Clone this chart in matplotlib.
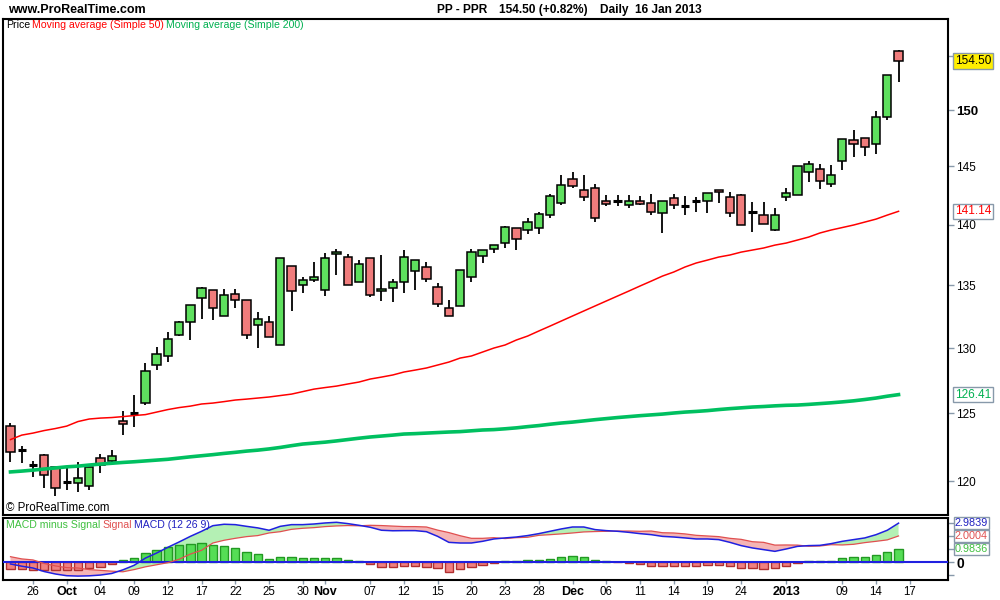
import matplotlib
matplotlib.use("Agg")
import matplotlib.pyplot as plt
import matplotlib.transforms as mtrans
from matplotlib import font_manager
import numpy as np

names = {f.name for f in font_manager.fontManager.ttflist}
FONT = 'Liberation Sans Narrow' if 'Liberation Sans Narrow' in names else 'Liberation Sans'
plt.rcParams['font.family'] = [FONT, 'DejaVu Sans']

# ---------------- data ----------------
opens = [124.04, 122.3, 121.2, 121.88, 121.0, 119.95, 119.85, 119.65, 121.66, 121.5,
         124.4, 125.0, 125.8, 128.7, 129.4, 131.0, 132.05, 134.0, 134.6, 132.5,
         134.3, 133.85, 131.8, 132.05, 130.2, 136.6, 135.0, 135.4, 134.6, 137.55,
         137.3, 135.3, 137.2, 134.5, 134.8, 135.25, 136.15, 136.5, 134.9, 133.15,
         133.3, 135.65, 137.4, 137.95, 138.45, 139.75, 139.55, 139.75, 140.8, 141.85,
         143.95, 142.95, 143.1, 142.0, 142.0, 141.65, 142.0, 141.85, 141.0, 142.25,
         141.6, 142.0, 142.0, 142.95, 142.35, 142.5, 141.05, 140.8, 139.55, 142.35,
         142.5, 144.5, 144.8, 143.5, 145.5, 147.32, 147.5, 146.97, 149.37, 155.4]
highs = [124.27, 122.6, 121.5, 121.95, 121.0, 121.0, 121.4, 121.0, 121.95, 122.3,
         125.2, 126.4, 128.85, 130.05, 131.25, 132.1, 133.4, 134.9, 134.6, 134.7,
         134.7, 133.85, 132.85, 132.5, 137.2, 136.6, 135.65, 136.9, 137.65, 138.0,
         137.55, 137.05, 137.2, 137.5, 135.5, 137.9, 137.1, 136.9, 135.15, 133.8,
         136.25, 137.95, 137.9, 138.3, 139.9, 139.75, 140.6, 141.1, 142.6, 144.25,
         144.5, 144.25, 143.45, 142.55, 142.55, 142.55, 142.45, 142.6, 142.0, 142.6,
         142.45, 142.35, 142.7, 142.95, 142.8, 142.6, 141.9, 141.9, 141.4, 143.1,
         145.0, 145.45, 145.25, 145.15, 147.4, 148.2, 147.5, 149.9, 153.2, 155.5]
lows = [121.39, 121.3, 120.3, 119.5, 118.95, 119.4, 119.2, 119.4, 120.57, 121.3,
        123.4, 124.0, 125.6, 128.3, 128.9, 130.95, 130.65, 132.3, 132.2, 132.5,
        133.2, 130.7, 130.0, 130.9, 130.2, 132.9, 134.4, 135.25, 134.1, 135.85,
        135.0, 135.3, 134.05, 133.7, 133.65, 134.35, 134.6, 135.25, 133.25, 132.5,
        133.3, 135.25, 136.8, 137.65, 138.1, 137.9, 139.2, 139.2, 140.55, 141.65,
        143.1, 142.05, 140.25, 141.55, 141.6, 141.45, 141.65, 140.8, 139.35, 141.3,
        140.8, 141.05, 141.0, 141.85, 140.65, 140.0, 139.4, 140.05, 139.5, 142.0,
        142.5, 143.65, 143.05, 143.2, 144.65, 145.85, 145.9, 146.1, 149.1, 152.55]
closes = [122.12, 122.3, 121.2, 120.42, 119.5, 119.95, 120.2, 121.0, 121.2, 121.8,
          124.2, 125.0, 128.2, 129.5, 130.7, 132.05, 133.4, 134.75, 133.15, 134.25,
          133.85, 131.0, 132.3, 130.9, 137.2, 134.5, 135.4, 135.65, 137.2, 137.7,
          135.0, 136.75, 134.2, 134.7, 135.25, 137.3, 137.1, 135.5, 133.5, 132.5,
          136.25, 137.7, 137.9, 138.3, 139.8, 138.8, 140.25, 140.9, 142.45, 143.4,
          143.3, 142.35, 140.55, 141.75, 142.0, 142.0, 141.75, 141.1, 142.0, 141.65,
          141.6, 142.0, 142.7, 142.8, 141.0, 140.0, 141.05, 140.05, 140.8, 142.7,
          145.0, 145.25, 143.7, 144.25, 147.4, 147.0, 146.7, 149.37, 153.19, 154.50]

ma50 = [123.04, 123.37, 123.52, 123.71, 123.86, 124.04, 124.38, 124.57, 124.64, 124.68,
        124.75, 124.83, 124.90, 125.09, 125.28, 125.43, 125.54, 125.70, 125.77, 125.88,
        126.00, 126.07, 126.15, 126.23, 126.34, 126.45, 126.64, 126.83, 126.95, 127.06,
        127.22, 127.37, 127.60, 127.75, 127.91, 128.14, 128.29, 128.45, 128.68, 128.91,
        129.22, 129.38, 129.69, 130.00, 130.24, 130.63, 130.94, 131.34, 131.73, 132.13,
        132.53, 132.93, 133.33, 133.73, 134.13, 134.53, 134.94, 135.34, 135.75, 136.08,
        136.49, 136.82, 137.06, 137.31, 137.48, 137.72, 137.89, 138.06, 138.30, 138.47,
        138.72, 138.97, 139.31, 139.56, 139.77, 139.98, 140.23, 140.48, 140.82, 141.14]
ma200 = [120.67, 120.73, 120.80, 120.88, 120.96, 121.04, 121.09, 121.17, 121.24, 121.30,
         121.36, 121.41, 121.47, 121.53, 121.59, 121.68, 121.77, 121.85, 121.93, 122.02,
         122.10, 122.19, 122.26, 122.35, 122.46, 122.59, 122.71, 122.78, 122.85, 122.94,
         123.04, 123.14, 123.23, 123.30, 123.37, 123.45, 123.48, 123.52, 123.56, 123.60,
         123.63, 123.69, 123.75, 123.78, 123.84, 123.91, 124.00, 124.08, 124.18, 124.27,
         124.34, 124.43, 124.52, 124.60, 124.68, 124.75, 124.82, 124.88, 124.94, 125.02,
         125.09, 125.14, 125.20, 125.28, 125.35, 125.41, 125.47, 125.51, 125.56, 125.60,
         125.62, 125.67, 125.73, 125.79, 125.86, 125.94, 126.04, 126.15, 126.29, 126.41]

macd = [-0.15, -0.32, -0.46, -0.73, -0.92, -1.05, -1.08, -1.06, -1.00, -0.88,
        -0.60, -0.25, 0.30, 0.69, 1.13, 1.54, 1.97, 2.36, 2.79, 2.90,
        2.87, 2.74, 2.62, 2.44, 2.74, 2.87, 2.87, 2.92, 3.00, 3.05,
        2.95, 2.82, 2.67, 2.44, 2.40, 2.41, 2.41, 2.33, 1.97, 1.51,
        1.46, 1.46, 1.59, 1.77, 1.85, 1.92, 2.03, 2.18, 2.36, 2.54,
        2.69, 2.69, 2.49, 2.41, 2.36, 2.28, 2.18, 2.10, 1.97, 1.92,
        1.85, 1.77, 1.77, 1.72, 1.51, 1.26, 1.08, 0.95, 0.82, 1.00,
        1.20, 1.26, 1.28, 1.41, 1.59, 1.72, 1.85, 2.10, 2.44, 2.9839]
signal = [0.41, 0.24, 0.16, -0.11, -0.30, -0.43, -0.46, -0.58, -0.64, -0.70,
          -0.75, -0.58, -0.37, -0.21, -0.05, 0.21, 0.61, 0.90, 1.46, 1.67,
          1.82, 1.95, 2.03, 2.23, 2.33, 2.51, 2.59, 2.64, 2.72, 2.77,
          2.80, 2.78, 2.82, 2.80, 2.76, 2.72, 2.72, 2.69, 2.45, 2.26,
          2.02, 1.82, 1.82, 1.87, 1.80, 1.87, 1.90, 2.05, 2.10, 2.16,
          2.23, 2.31, 2.34, 2.36, 2.38, 2.38, 2.36, 2.38, 2.25, 2.23,
          2.16, 2.05, 2.00, 1.95, 1.82, 1.74, 1.56, 1.51, 1.30, 1.31,
          1.30, 1.21, 1.23, 1.33, 1.31, 1.36, 1.49, 1.59, 1.70, 2.0004]
hist = [-0.56, -0.56, -0.62, -0.62, -0.62, -0.62, -0.62, -0.48, -0.36, -0.18,
        0.15, 0.33, 0.67, 0.90, 1.18, 1.33, 1.36, 1.46, 1.33, 1.23,
        1.05, 0.79, 0.59, 0.21, 0.41, 0.36, 0.28, 0.28, 0.28, 0.28,
        0.15, 0.08, -0.15, -0.36, -0.36, -0.31, -0.31, -0.36, -0.48, -0.75,
        -0.56, -0.36, -0.23, -0.10, 0.05, 0.05, 0.13, 0.13, 0.26, 0.38,
        0.46, 0.38, 0.15, 0.05, -0.02, -0.10, -0.18, -0.28, -0.28, -0.31,
        -0.31, -0.28, -0.23, -0.23, -0.31, -0.48, -0.48, -0.56, -0.48, -0.31,
        -0.10, 0.05, 0.05, 0.08, 0.28, 0.36, 0.36, 0.51, 0.74, 0.9836]

tick_pos = [2, 5, 8, 11, 14, 17, 20, 23, 26, 28, 32, 35, 38, 41, 44, 47, 50, 53, 56,
            59, 62, 65, 69, 74, 77, 80]
tick_labels = ['26', 'Oct', '04', '09', '12', '17', '22', '25', '30', 'Nov', '07', '12',
               '15', '20', '23', '28', 'Dec', '06', '11', '14', '19', '24', '2013',
               '09', '14', '17']
month_labels = {'Oct', 'Nov', 'Dec', '2013'}
price_ticks = [120, 125, 130, 135, 140, 145, 150, 155]

# ---------------- figure ----------------
W, H = 1000, 600
fig = plt.figure(figsize=(10, 6), dpi=100)
fig.patch.set_facecolor('white')
renderer = fig.canvas.get_renderer()


def fx(px):
    return px / W


def fy(py):
    return 1 - py / H


def seq_text(x0, y, parts, gap=3, **kw):
    xp = x0
    for s, col in parts:
        t = fig.text(fx(xp), fy(y), s, color=col, va='center', ha='left', **kw)
        xp += t.get_window_extent(renderer).width + gap


L, R = 3.3, 948
ax = fig.add_axes([fx(L), fy(514.5), fx(R - L), (514.5 - 19) / H])
ax2 = fig.add_axes([fx(L), fy(580), fx(R - L), (580 - 518) / H])

x = np.arange(len(opens))
RED = '#f07c7c'
GREEN = '#5ee05e'
BW = 0.74

# wicks
ax.vlines(x, lows, highs, color='black', lw=1.3, zorder=2)
for i in x:
    o, c = opens[i], closes[i]
    if abs(c - o) < 1e-9:
        ax.hlines(o, i - BW / 2, i + BW / 2, color='black', lw=2.2, zorder=3)
    else:
        col = GREEN if c > o else RED
        ax.bar(i, abs(c - o), bottom=min(o, c), width=BW, color=col,
               edgecolor='black', linewidth=1.1, zorder=3)

ax.plot(x, ma50, color='#ff0000', lw=1.1, zorder=4)
ax.plot(x, ma200, color='#00c060', lw=2.6, zorder=4)

ax.set_yscale('log')
ax.set_ylim(117.62, 158.44)
ax.set_xlim(-0.64, 83.4)
ax.yaxis.tick_right()
ax.yaxis.set_major_locator(matplotlib.ticker.FixedLocator(price_ticks))
ax.yaxis.set_minor_locator(matplotlib.ticker.NullLocator())
ax.set_yticklabels([str(t) if t != 155 else '' for t in price_ticks])
ax.tick_params(axis='y', direction='out', length=4, width=1, color='#8899aa',
               labelsize=8.5, pad=2)
for lab, t in zip(ax.get_yticklabels(), price_ticks):
    if t == 150:
        lab.set_fontweight('bold')
        lab.set_fontsize(9.5)
ax.set_xticks([])
for s in ax.spines.values():
    s.set_linewidth(1.5)

trans = mtrans.blended_transform_factory(ax.transAxes, ax.transData)
box = dict(boxstyle='square,pad=0.15', fc='white', ec='#8899aa', lw=1)
ax.text(1.007, closes[-1], '154.50', transform=trans, va='center', ha='left',
        fontsize=8.5, color='black', bbox=dict(box, fc='#ffee00'), zorder=10, clip_on=False)
ax.text(1.007, ma50[-1], '141.14', transform=trans, va='center', ha='left',
        fontsize=8.5, color='#ff0000', bbox=box, clip_on=False)
ax.text(1.007, ma200[-1], '126.41', transform=trans, va='center', ha='left',
        fontsize=8.5, color='#00b050', bbox=box, clip_on=False)

# legend line
seq_text(6, 25, [('Price', 'black'), ('Moving average (Simple 50)', '#ff0000'),
                 ('Moving average (Simple 200)', '#00b050')], gap=2, fontsize=7.6)
fig.text(fx(6), fy(508), '\u00a9 ProRealTime.com', fontsize=8.3, color='black', va='center')

# header
fig.text(fx(8), fy(10), 'www.ProRealTime.com', fontsize=9, fontweight='bold', va='center')
seq_text(437, 10, [('PP - PPR', 'black'), ('154.50 (+0.82%)', 'black'),
                   ('Daily  16 Jan 2013', 'black')], gap=12, fontsize=8.6,
         fontweight='bold')

# ---------------- MACD panel ----------------
m = np.array(macd)
sg = np.array(signal)
hcol = ['#55dd55' if v >= 0 else '#f08080' for v in hist]
hedge = ['#229922' if v >= 0 else '#b03030' for v in hist]
ax2.bar(x, hist, width=BW, color=hcol, edgecolor=hedge, linewidth=1, zorder=2)
ax2.fill_between(x, m, sg, where=m >= sg, interpolate=True, color='#b4f0b4', lw=0, zorder=1)
ax2.fill_between(x, m, sg, where=m < sg, interpolate=True, color='#f5b5b5', lw=0, zorder=1)
ax2.axhline(0, color='#2020e0', lw=1.5, zorder=3)
ax2.plot(x, sg, color='#e05050', lw=0.9, zorder=4)
ax2.plot(x, m, color='#2020e0', lw=1.1, zorder=5)
ax2.set_xlim(-0.64, 83.4)
ax2.set_ylim(-1.38, 3.38)
ax2.yaxis.tick_right()
ax2.set_yticks([-1, 0, 1, 2, 3])
ax2.set_yticklabels(['', '0', '', '', ''])
ax2.tick_params(axis='y', direction='out', length=4, width=1, color='#8899aa',
                labelsize=10, pad=2)
ax2.get_yticklabels()[1].set_fontweight('bold')
ax2.set_xticks(tick_pos)
ax2.set_xticklabels(tick_labels)
ax2.tick_params(axis='x', direction='out', length=3, width=1, color='#8899aa',
                labelsize=8.3, pad=1.5)
for lab in ax2.get_xticklabels():
    if lab.get_text() in month_labels:
        lab.set_fontweight('bold')
        lab.set_fontsize(9)
for s in ax2.spines.values():
    s.set_linewidth(1.5)

trans2 = mtrans.blended_transform_factory(ax2.transAxes, ax2.transData)
box2 = dict(boxstyle='square,pad=0.1', fc='white', ec='#8899aa', lw=1)
ax2.text(1.007, 3.0, '2.9839', transform=trans2, va='center', ha='left', fontsize=7.8,
         color='#2020c0', bbox=box2, clip_on=False)
ax2.text(1.007, 2.0, '2.0004', transform=trans2, va='center', ha='left', fontsize=7.8,
         color='#e05050', bbox=box2, clip_on=False)
ax2.text(1.007, 1.0, '0.9836', transform=trans2, va='center', ha='left', fontsize=7.8,
         color='#40c040', bbox=box2, clip_on=False)

seq_text(6, 525, [('MACD minus Signal', '#40c040'), ('Signal', '#e05050'),
                  ('MACD (12 26 9)', '#2020c0')], gap=2, fontsize=7.6)

fig.savefig('out.png', dpi=100)
